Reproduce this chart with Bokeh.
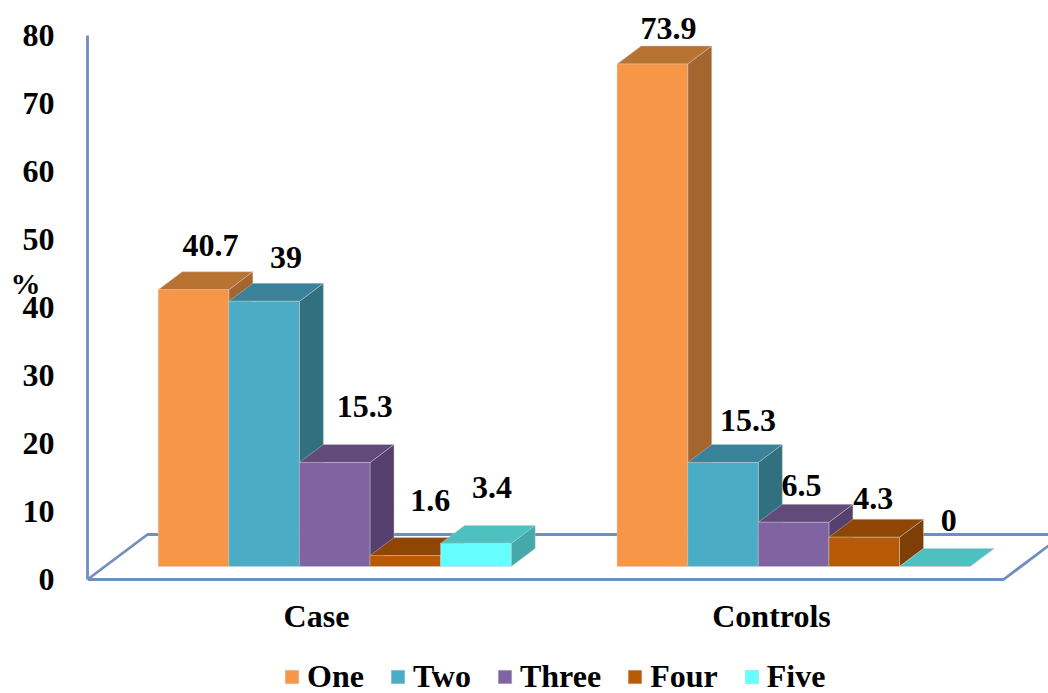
import numpy as np
from bokeh.core.properties import value
from bokeh.embed import file_html
from bokeh.models import ColumnDataSource, FixedTicker, Legend, LegendItem, LinearAxis, Range1d
from bokeh.plotting import figure
from bokeh.resources import INLINE

# Percentages per group, one list per series
groups = ["Case", "Controls"]
series = ["One", "Two", "Three", "Four", "Five"]
one = [40.7, 73.9]
two = [39, 15.3]
three = [15.3, 6.5]
four = [1.6, 4.3]
five = [3.4, 0]
y_ticks = [0, 10, 20, 30, 40, 50, 60, 70, 80]

# Front, top and side shades for each series
front_colors = ["#F79646", "#4BACC6", "#8064A2", "#B85A05", "#66FFFF"]
top_colors = ["#B87333", "#3A8299", "#624A7A", "#8F4604", "#4DC0C0"]
side_colors = ["#A5652E", "#31717F", "#56406D", "#7D3F05", "#45A8AA"]

# Nudges (screen px) that place the value labels around the bar tops
label_dx = [[17, 16], [22, 25], [30, 8], [25, 9], [16, 14]]
label_dy = [[44, 35], [44, 42], [56, 37], [55, 39], [56, 46]]

values = [one, two, three, four, five]

# Scale: one x unit is a bar width, y is in percent
PX_X, PX_Y = 70.6, 6.8
GROUP_STEP = 6.5
BASE = 13 / PX_Y
DEPTH_X, DEPTH_Y = 24 / PX_X, 18 / PX_Y
FLOOR_X, FLOOR_Y = 60 / PX_X, 45 / PX_Y
X_ORIGIN = 157.7
X0 = (87 - X_ORIGIN) / PX_X
X_END = (1048 - X_ORIGIN) / PX_X
FLOOR_END = (1003 - X_ORIGIN) / PX_X
FONT = "Liberation Serif"
FONT_SIZE = "32px"
LINE = "#6F8FBF"
EDGE = "#CDCDCD"

p = figure(
    width=1048, height=693, output_backend="svg", toolbar_location=None,
    x_range=Range1d(X0, X_END), y_range=Range1d((579 - 693) / PX_Y, 579 / PX_Y),
    x_axis_location=None,
    min_border_left=87, min_border_right=0, min_border_top=0, min_border_bottom=0,
    outline_line_color=None, background_fill_color="white",
)
p.grid.visible = False

# Floor of the 3D box: front edge, left edge with back line, right edge
p.multi_line(
    [[X0, FLOOR_END, FLOOR_END + FLOOR_X], [X0, X0 + FLOOR_X, X_END]],
    [[0, 0, FLOOR_Y], [0, FLOOR_Y, FLOOR_Y]],
    line_color=LINE, line_width=2.8,
)

legend_items = []
group_pos = np.array([0.0, GROUP_STEP])
edge_style = dict(line_color=EDGE, line_width=0.8, line_alpha=0.55)
for i, name in enumerate(series):
    v = np.array(values[i], dtype=float)
    left = group_pos + i
    right = left + 1
    bottom = np.full_like(v, BASE)
    top = BASE + v

    side_xs = [[r, r + DEPTH_X, r + DEPTH_X, r] for r in right]
    side_ys = [[b, b + DEPTH_Y, t + DEPTH_Y, t] for b, t in zip(bottom, top)]
    p.patches(side_xs, side_ys, fill_color=side_colors[i], **edge_style)

    top_xs = [[l, r, r + DEPTH_X, l + DEPTH_X] for l, r in zip(left, right)]
    top_ys = [[t, t, t + DEPTH_Y, t + DEPTH_Y] for t in top]
    p.patches(top_xs, top_ys, fill_color=top_colors[i], **edge_style)

    front = p.quad(left=left, right=right, bottom=bottom, top=top,
                   fill_color=front_colors[i], **edge_style)
    legend_items.append(LegendItem(label=name, renderers=[front]))

# Value labels are drawn last so they stay above every bar
for i in range(len(series)):
    v = np.array(values[i], dtype=float)
    src = ColumnDataSource(dict(
        x=group_pos + i + 0.5,
        y=BASE + v,
        t=[f"{a:g}" for a in values[i]],
        dx=label_dx[i],
        dy=[-d for d in label_dy[i]],
    ))
    p.text("x", "y", text="t", x_offset="dx", y_offset="dy", source=src,
           text_font=value(FONT), text_font_size=value(FONT_SIZE), text_font_style="bold",
           text_color="black", text_align="center", text_baseline="middle")

# Group names under the floor
centers = [(316 - X_ORIGIN) / PX_X, (771 - X_ORIGIN) / PX_X]
p.text(centers, [(579 - 615) / PX_Y] * 2, text=groups,
       text_font=value(FONT), text_font_size=value(FONT_SIZE), text_font_style="bold",
       text_color="black", text_align="center", text_baseline="middle")

# Percentage axis
yax = p.yaxis[0]
yax.ticker = FixedTicker(ticks=y_ticks)
yax.bounds = (0, 80)
yax.axis_line_color = LINE
yax.axis_line_width = 2.8
yax.major_tick_line_color = None
yax.minor_tick_line_color = None
yax.major_label_text_font = FONT
yax.major_label_text_font_size = FONT_SIZE
yax.major_label_text_font_style = "bold"
yax.major_label_text_color = "black"
yax.major_label_standoff = 27

# Unit mark beside the percentage axis, carried by a bare second axis
unit_pos = (579 - 283) / PX_Y
unit_axis = LinearAxis(
    ticker=FixedTicker(ticks=[unit_pos]), major_label_overrides={unit_pos: "%"},
    axis_line_color=None, major_tick_line_color=None, minor_tick_line_color=None,
    major_label_standoff=-27, major_label_text_font=FONT, major_label_text_font_size="30px",
    major_label_text_font_style="bold", major_label_text_color="black",
)
p.add_layout(unit_axis, "left")

legend = Legend(
    items=legend_items, orientation="horizontal", location=(196, -2),
    glyph_width=17, glyph_height=17, label_standoff=7, spacing=25,
    padding=0, margin=0, border_line_color=None, background_fill_color=None,
    background_fill_alpha=0, label_text_font=FONT, label_text_font_size=FONT_SIZE,
    label_text_font_style="bold", label_text_color="black",
)
p.add_layout(legend, "center")

open("out.html", "w").write(file_html(p, INLINE))
